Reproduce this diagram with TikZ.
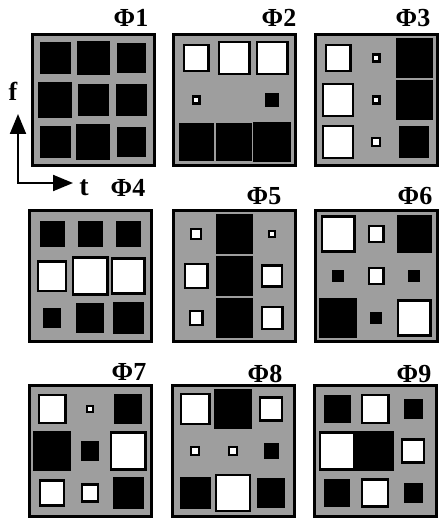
\documentclass[tikz,border=0pt]{standalone}
\usepackage{fontspec}
\setmainfont{Liberation Serif}
\usetikzlibrary{arrows.meta,calc}

\begin{document}
\begin{tikzpicture}[
  x=0.5pt,
  y=-0.5pt,
  panel/.style={draw=black,fill=figgray,line width=1.5pt,inner sep=0pt,
    minimum width=61pt,minimum height=65.5pt},
  hsq/.style={draw=black,fill=#1,line width=1.2pt,inner sep=0pt},
  cellsize/.style={minimum width=#1*0.5pt-1.2pt,minimum height=#1*0.53pt-1.2pt},
  title/.style={font=\fontsize{13}{15}\selectfont\bfseries,anchor=base,inner sep=0pt},
  axis/.style={line width=1pt,{Triangle[length=10pt,width=8pt]}-{Triangle[length=10pt,width=8pt]}}
]
\definecolor{figgray}{gray}{0.62}

\useasboundingbox (0,0) rectangle (440,518);

% The nine basis images, three by three.
\foreach \n/\px/\py in {1/93/100,2/234/100,3/376/100,
                        4/90/276,5/234/276,6/376/276,
                        7/90/451,8/233/451,9/375/451}
  \node[panel] (p\n) at (\px,\py) {};

\foreach \n/\tx/\ty in {1/131/27,2/279/27,3/413/27,
                        4/128/197,5/264/205,6/415/205,
                        7/129/380,8/265/382,9/414/382}
  \node[title] (t\n) at (\tx,\ty) {Φ\n};

% Cell weights: col/row/size/colour (white = positive, black = negative).
\foreach \c/\r/\s/\k in {1/1/31/black,2/1/33/black,3/1/29/black,
                         1/2/34/black,2/2/31/black,3/2/31/black,
                         1/3/31/black,2/3/34/black,3/3/29/black}
  \node[hsq=\k,cellsize=\s] (p1c\c\r) at ($(p1)+({(\c-2)*38},{(\r-2)*42})$) {};

\foreach \c/\r/\s/\k in {1/1/27/white,2/1/33/white,3/1/33/white,
                         1/2/9/white,3/2/14/black,
                         1/3/35/black,2/3/36/black,3/3/38/black}
  \node[hsq=\k,cellsize=\s] (p2c\c\r) at ($(p2)+({(\c-2)*38},{(\r-2)*42})$) {};

\foreach \c/\r/\s/\k in {1/1/27/white,2/1/9/white,3/1/37/black,
                         1/2/32/white,2/2/9/white,3/2/37/black,
                         1/3/32/white,2/3/10/white,3/3/30/black}
  \node[hsq=\k,cellsize=\s] (p3c\c\r) at ($(p3)+({(\c-2)*38},{(\r-2)*42})$) {};

\foreach \c/\r/\s/\k in {1/1/25/black,2/1/25/black,3/1/25/black,
                         1/2/30/white,2/2/37/white,3/2/35/white,
                         1/3/18/black,2/3/28/black,3/3/31/black}
  \node[hsq=\k,cellsize=\s] (p4c\c\r) at ($(p4)+({(\c-2)*38},{(\r-2)*42})$) {};

\foreach \c/\r/\s/\k in {1/1/12/white,2/1/37/black,3/1/8/white,
                         1/2/25/white,2/2/37/black,3/2/22/white,
                         1/3/15/white,2/3/37/black,3/3/23/white}
  \node[hsq=\k,cellsize=\s] (p5c\c\r) at ($(p5)+({(\c-2)*38},{(\r-2)*42})$) {};

\foreach \c/\r/\s/\k in {1/1/35/white,2/1/17/white,3/1/35/black,
                         1/2/12/black,2/2/17/white,3/2/12/black,
                         1/3/38/black,2/3/12/black,3/3/35/white}
  \node[hsq=\k,cellsize=\s] (p6c\c\r) at ($(p6)+({(\c-2)*38},{(\r-2)*42})$) {};

\foreach \c/\r/\s/\k in {1/1/29/white,2/1/8/white,3/1/28/black,
                         1/2/38/black,2/2/18/black,3/2/37/white,
                         1/3/26/white,2/3/18/white,3/3/31/black}
  \node[hsq=\k,cellsize=\s] (p7c\c\r) at ($(p7)+({(\c-2)*38},{(\r-2)*42})$) {};

\foreach \c/\r/\s/\k in {1/1/31/white,2/1/38/black,3/1/24/white,
                         1/2/10/white,2/2/10/white,3/2/15/black,
                         1/3/31/black,2/3/36/white,3/3/28/black}
  \node[hsq=\k,cellsize=\s] (p8c\c\r) at ($(p8)+({(\c-2)*38},{(\r-2)*42})$) {};

\foreach \c/\r/\s/\k in {1/1/27/black,2/1/29/white,3/1/19/black,
                         1/2/37/white,2/2/38/black,3/2/24/white,
                         1/3/26/black,2/3/28/white,3/3/19/black}
  \node[hsq=\k,cellsize=\s] (p9c\c\r) at ($(p9)+({(\c-2)*38},{(\r-2)*42})$) {};

% Frequency/time axes.
\coordinate (org)  at (18,183);
\coordinate (ftip) at (18,114);
\coordinate (ttip) at (73,183);
\draw[axis] (ftip) -- (org) -- (ttip);
\node[title] (flab) at (13,101) {f};
\node[title,font=\fontsize{14}{16}\selectfont\bfseries] (tlab) at (84,195) {t};
\end{tikzpicture}
\end{document}
